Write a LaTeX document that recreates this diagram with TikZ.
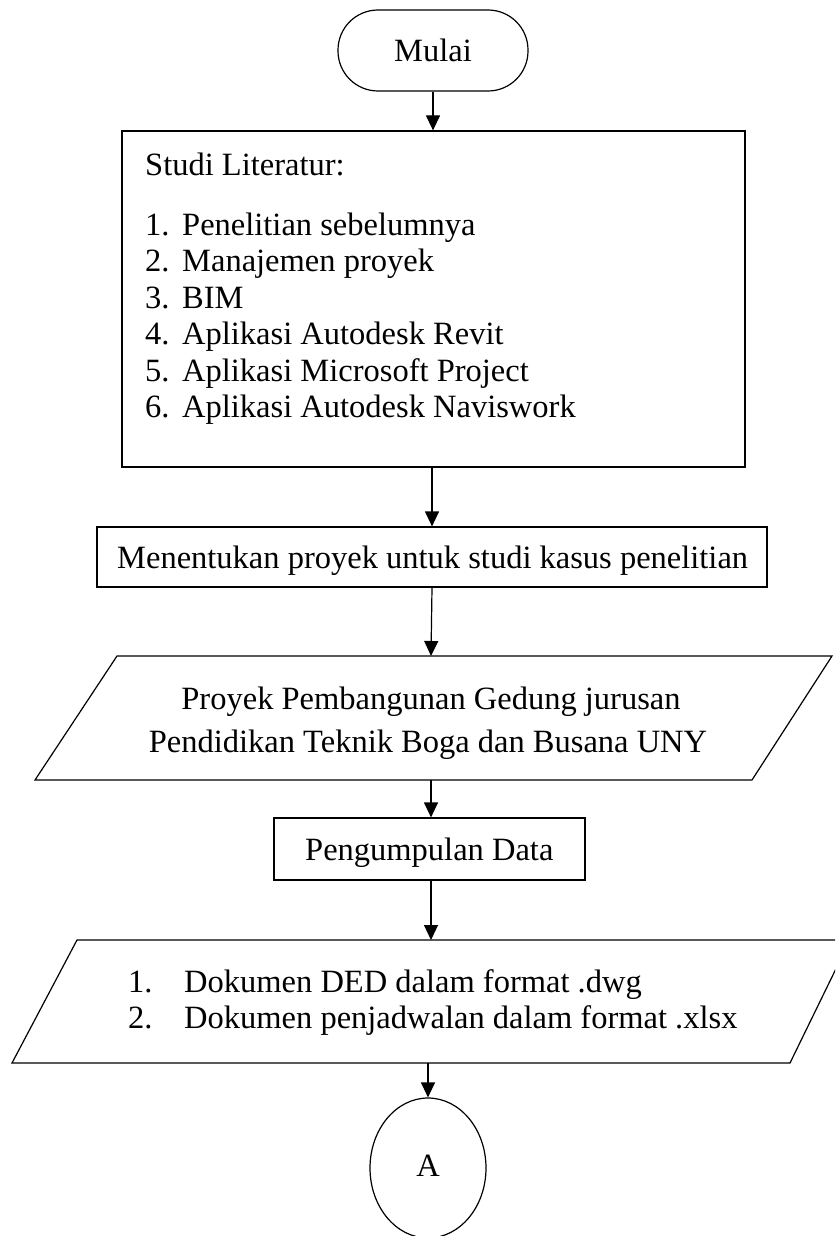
\documentclass[tikz,border=0pt]{standalone}
\usepackage{fontspec}
\setmainfont{Liberation Serif}
\usetikzlibrary{arrows.meta,shapes.geometric}
\begin{document}
\begin{tikzpicture}[x=1pt,y=-1pt,
  font=\fontsize{32.5}{38}\selectfont,
  box/.style={draw, line width=1.2pt, inner sep=0pt},
  arr/.style={-{Triangle[length=15pt,width=14pt]}, line width=1.2pt},
  txt/.style={inner sep=0pt, anchor=base west},
  ctxt/.style={inner sep=0pt, anchor=base}]
\useasboundingbox (0,0) rectangle (835,1236);
\clip (0,0) rectangle (835,1236);
\fill[white] (0,0) rectangle (835,1236);

% Mulai
\node[box, rounded corners=40pt, minimum width=190pt, minimum height=81pt] (mulai) at (433,50.5) {};
\node[ctxt] (mulaitxt) at (433,62) {Mulai};

% Studi Literatur
\node[box, minimum width=623pt, minimum height=336pt] (studi) at (433.5,299) {};
\node[txt] (s0) at (145,175) {Studi Literatur:};
\node[txt] (n1) at (145,235) {1.};
\node[txt] (s1) at (182,235) {Penelitian sebelumnya};
\node[txt] (n2) at (145,271.5) {2.};
\node[txt] (s2) at (182,271.5) {Manajemen proyek};
\node[txt] (n3) at (145,308) {3.};
\node[txt] (s3) at (182,308) {BIM};
\node[txt] (n4) at (145,344.5) {4.};
\node[txt] (s4) at (182,344.5) {Aplikasi Autodesk Revit};
\node[txt] (n5) at (145,381) {5.};
\node[txt] (s5) at (182,381) {Aplikasi Microsoft Project};
\node[txt] (n6) at (145,417.5) {6.};
\node[txt] (s6) at (182,417.5) {Aplikasi Autodesk Naviswork};

% Menentukan
\node[box, minimum width=670pt, minimum height=60pt] (tentu) at (432,557) {};
\node[txt] (tentutxt) at (117,568) {Menentukan proyek untuk studi kasus penelitian};

% Parallelogram 1
\draw[line width=1.2pt] (117,656) -- (832,656) -- (752,780) -- (35,780) -- cycle;
\coordinate (p1t) at (431,656);
\coordinate (p1b) at (431,780);
\node[ctxt] (p1a) at (431,709) {Proyek Pembangunan Gedung jurusan};
\node[ctxt] (p1c) at (428,752) {Pendidikan Teknik Boga dan Busana UNY};

% Pengumpulan Data
\node[box, minimum width=311pt, minimum height=62pt] (kumpul) at (429.5,849) {};
\node[txt] (kumpultxt) at (305,860) {Pengumpulan Data};

% Parallelogram 2
\draw[line width=1.2pt] (77,940) -- (850,940) -- (790,1063) -- (12,1063) -- cycle;
\coordinate (p2t) at (431,940);
\coordinate (p2b) at (428,1063);
\node[txt] (m1) at (128,992) {1.};
\node[txt] (d1) at (184,992) {Dokumen DED dalam format .dwg};
\node[txt] (m2) at (128,1028) {2.};
\node[txt] (d2) at (184,1028) {Dokumen penjadwalan dalam format .xlsx};

% Connector A
\node[box, ellipse, minimum width=116pt, minimum height=140pt] (conA) at (428,1168) {};
\node[ctxt] (Atxt) at (428,1176) {A};

% Arrows
\draw[arr] (mulai.south) -- (mulai.south |- studi.north);
\draw[arr] (studi.south -| tentu.north) -- (tentu.north);
\draw[arr] (tentu.south) -- (p1t);
\draw[arr] (p1b) -- (p1b |- kumpul.north);
\draw[arr] (kumpul.south -| p2t) -- (p2t);
\draw[arr] (p2b) -- (conA.north);
\end{tikzpicture}
\end{document}
